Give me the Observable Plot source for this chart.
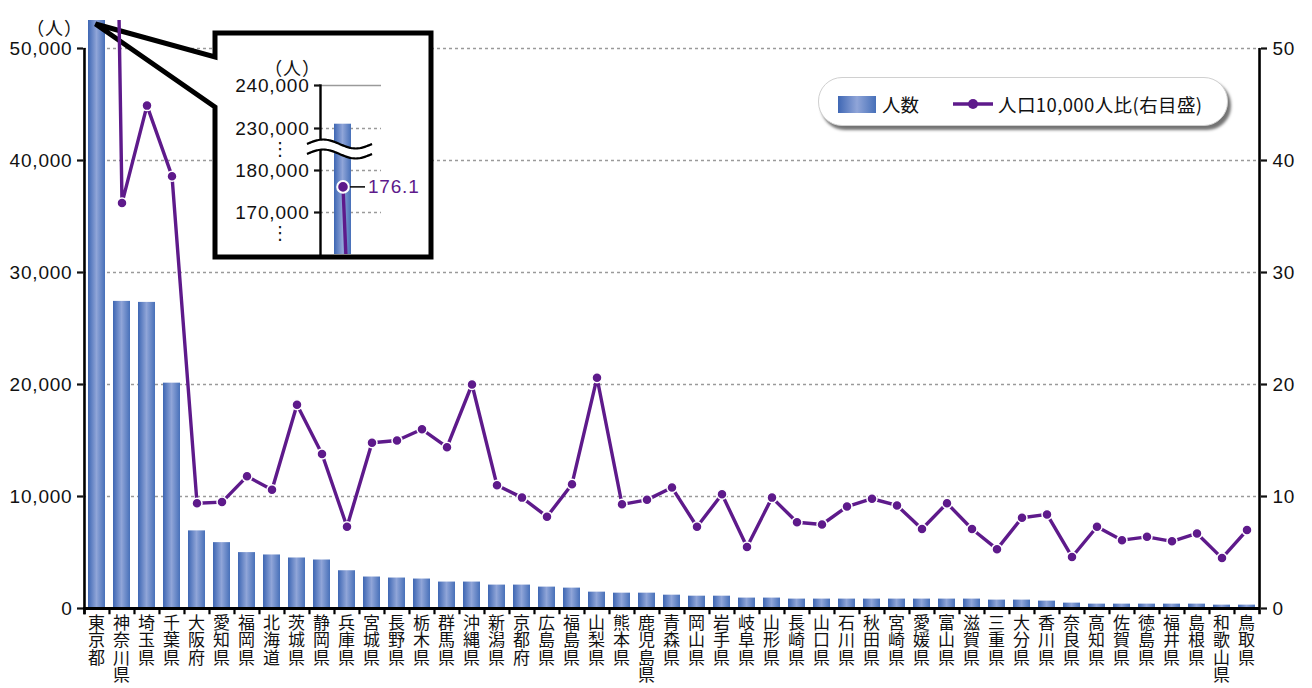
<!DOCTYPE html>
<html lang="ja">
<head>
<meta charset="utf-8">
<script src="https://cdn.jsdelivr.net/npm/d3@7"></script>
<script src="https://cdn.jsdelivr.net/npm/@observablehq/plot@0.6"></script>
<style>
  body { margin: 0; background: #fff; }
  #wrap { position: relative; width: 1312px; height: 688px; overflow: hidden; }
  #wrap > svg { position: absolute; left: 0; top: 0; }
  #inset { position: absolute; left: 215px; top: 33px; width: 217px; height: 225px; }
  #inset > svg { position: absolute; left: 0; top: 0; }
  #legend { position: absolute; left: 818px; top: 77px; width: 408px; height: 47px; border-radius: 24px;
    background: #fff; border: 1px solid #d0d0d0; box-shadow: 3px 4px 3px rgba(0,0,0,0.55);
    font-family: "Noto Sans CJK JP", sans-serif; font-size: 18.5px; color: #111; }
  #legend .sw { position: absolute; left: 19px; top: 18px; width: 38px; height: 17px;
    background: linear-gradient(to right, #3f67b4, #90a5d8 50%, #4770b9); }
  #legend .t { position: absolute; top: 12px; line-height: 28px; white-space: nowrap; }
  #legend .ls { position: absolute; left: 134px; top: 20px; }
</style>
</head>
<body>
<div id="wrap">
  <div id="legend">
    <div class="sw"></div><span class="t" style="left:63px">人数</span>
    <svg class="ls" width="40" height="12"><line x1="0" y1="6" x2="40" y2="6" stroke="#5e1a8b" stroke-width="3.3"/><circle cx="20" cy="6" r="5" fill="#5e1a8b"/></svg>
    <span class="t" style="left:179px; letter-spacing:0.4px">人口10,000人比(右目盛)</span>
  </div>
</div>
<script>
// ---- data ----
const prefectures = ["東京都","神奈川県","埼玉県","千葉県","大阪府","愛知県","福岡県","北海道","茨城県","静岡県",
  "兵庫県","宮城県","長野県","栃木県","群馬県","沖縄県","新潟県","京都府","広島県","福島県",
  "山梨県","熊本県","鹿児島県","青森県","岡山県","岩手県","岐阜県","山形県","長崎県","山口県",
  "石川県","秋田県","宮崎県","愛媛県","富山県","滋賀県","三重県","大分県","香川県","奈良県",
  "高知県","佐賀県","徳島県","福井県","島根県","和歌山県","鳥取県"];
const counts = [231000, 27420, 27330, 20120, 6930, 5880, 4990, 4780, 4510, 4330,
  3370, 2810, 2720, 2630, 2360, 2360, 2090, 2090, 1910, 1820,
  1460, 1370, 1370, 1190, 1100, 1100, 930, 930, 840, 840,
  840, 840, 840, 840, 840, 840, 750, 750, 660, 480,
  390, 390, 390, 390, 390, 300, 300];
const ratios = [176.1, 36.2, 44.9, 38.6, 9.4, 9.5, 11.8, 10.6, 18.2, 13.8,
  7.3, 14.8, 15.0, 16.0, 14.4, 20.0, 11.0, 9.9, 8.2, 11.1,
  20.6, 9.3, 9.7, 10.8, 7.3, 10.2, 5.5, 9.9, 7.7, 7.5,
  9.1, 9.8, 9.2, 7.1, 9.4, 7.1, 5.3, 8.1, 8.4, 4.6,
  7.3, 6.1, 6.4, 6.0, 6.7, 4.5, 7.0];
const leftTicks = [0, 10000, 20000, 30000, 40000, 50000];
const rightTicks = [0, 10, 20, 30, 40, 50];
const rightFactor = 1000; // right axis 50 == left axis 50,000
const insetTicks = [170000, 180000, 230000, 240000];
const insetBreak = 205000;
const insetDotsAt = [205000, 165000];

const data = prefectures.map((p, i) => ({pref: p, count: counts[i], ratio: ratios[i], ratioY: ratios[i] * rightFactor}));

const purple = "#5e1a8b";
const numFont = "'Liberation Sans', Arial, sans-serif";
const cjkFont = "'Noto Sans CJK JP', sans-serif";

function gradDefs(id) {
  return () => {
    const defs = d3.create("svg:defs");
    const g = defs.append("linearGradient").attr("id", id).attr("x1", "0").attr("x2", "1").attr("y1", "0").attr("y2", "0");
    g.append("stop").attr("offset", "0%").attr("stop-color", "#3d66b3");
    g.append("stop").attr("offset", "50%").attr("stop-color", "#90a5d8");
    g.append("stop").attr("offset", "100%").attr("stop-color", "#4770b9");
    return defs.node();
  };
}

const W = 1312, H = 688, mL = 83, mR = 52, mT = 20, mB = 80;
const step = (W - mL - mR) / prefectures.length;

// callout (speech-bubble frame) drawn from the Tokyo bar
const callout = (index, scales, values, dims) => {
  const sx = scales.x;
  const bw = typeof sx.bandwidth === "function" ? sx.bandwidth() : sx.bandwidth;
  const tipX = sx(prefectures[0]) + bw / 2 - 1;
  const tipY = dims.marginTop + 4;
  const L = 215, T = 33, R = 431, B = 257;
  const d = `M${L},${T}H${R}V${B}H${L}V107L${tipX},${tipY}L${L},57Z`;
  const g = d3.create("svg:g");
  g.append("path").attr("d", d).attr("fill", "#fff").attr("stroke", "#000")
    .attr("stroke-width", 5).attr("stroke-linejoin", "miter");
  return g.node();
};

const chart = Plot.plot({
  width: W, height: H,
  marginLeft: mL, marginRight: mR, marginTop: mT, marginBottom: mB,
  style: {background: "transparent", fontFamily: numFont, fontSize: "19px", color: "#111", letterSpacing: "0.8px"},
  x: {domain: prefectures, paddingInner: 0.32, paddingOuter: 0.16, axis: null, label: null},
  y: {domain: [0, 52500], axis: null, label: null},
  marks: [
    gradDefs("barGrad"),
    Plot.gridY(leftTicks.filter(d => d > 0), {stroke: "#9a9a9a", strokeOpacity: 1, strokeWidth: 1.3, strokeDasharray: "3,3"}),
    Plot.barY(data, {x: "pref", y: "count", fill: "url(#barGrad)", clip: true}),
    callout,
    Plot.line(data, {x: "pref", y: "ratioY", stroke: purple, strokeWidth: 3.4, clip: true}),
    Plot.dot(data, {x: "pref", y: "ratioY", r: 5, fill: purple, stroke: "#fff", strokeWidth: 1.5, clip: true}),
    Plot.ruleY([0], {stroke: "#000", strokeWidth: 3}),
    Plot.ruleX(prefectures, {y1: -560, y2: 0, dx: -step / 2, stroke: "#000", strokeWidth: 2.2}),
    Plot.ruleX([prefectures[0]], {y1: -560, y2: 50000, dx: -step / 2, stroke: "#000", strokeWidth: 2.6}),
    Plot.ruleX([prefectures[prefectures.length - 1]], {y1: -560, y2: 50000, dx: step / 2, stroke: "#000", strokeWidth: 2.6}),
    Plot.axisY({ticks: leftTicks, tickFormat: d3.format(","), tickSize: 6, tickPadding: 5, strokeWidth: 2.2, fontSize: 19, label: null}),
    Plot.axisY({anchor: "right", ticks: rightTicks.map(d => d * rightFactor), tickFormat: d => d / rightFactor, tickSize: 6, tickPadding: 6, strokeWidth: 2.2, fontSize: 19, label: null}),
    Plot.axisX({tickSize: 0, tickPadding: 8, tickFormat: d => [...d].join("\n"), fontFamily: cjkFont, fontSize: 17, lineHeight: 1.03, label: null}),
    Plot.text(["（人）"], {text: d => d, frameAnchor: "top-left", textAnchor: "middle", dx: -29, dy: 2, fontFamily: cjkFont, fontSize: 18, letterSpacing: 0})
  ]
});
document.getElementById("wrap").appendChild(chart);

// ---- inset (Tokyo detail with broken axis) ----
const iW = 217, iH = 225;
const breakMark = (index, scales) => {
  const c = scales.y(insetBreak);
  const x0 = 92, x1 = 157, A = 4.5, n = 40;
  const wave = (cy) => d3.range(n + 1).map(k => {
    const t = k / n;
    return [x0 + t * (x1 - x0), cy - A * Math.sin(2 * Math.PI * t)];
  });
  const up = wave(c - 5), lo = wave(c + 5);
  const g = d3.create("svg:g");
  const lineGen = d3.line().curve(d3.curveBasis);
  g.append("path").attr("d", "M" + up.map(p => p.join(",")).join("L") + "L" + lo.slice().reverse().map(p => p.join(",")).join("L") + "Z")
    .attr("fill", "#fff");
  g.append("path").attr("d", lineGen(up)).attr("fill", "none").attr("stroke", "#000").attr("stroke-width", 2.2);
  g.append("path").attr("d", lineGen(lo)).attr("fill", "none").attr("stroke", "#000").attr("stroke-width", 2.2);
  return g.node();
};

const inset = Plot.plot({
  width: iW, height: iH,
  marginLeft: 105, marginRight: 51, marginTop: 52, marginBottom: 4,
  style: {background: "transparent", fontFamily: numFont, fontSize: "19px", color: "#111", letterSpacing: "0.8px"},
  x: {type: "band", domain: prefectures, range: [113.5, 113.5 + step * prefectures.length], paddingInner: 0.32, paddingOuter: 0.16, axis: null, label: null},
  y: {type: "linear", domain: [160000, 170000, 180000, 230000, 240000], range: [221, 179, 137, 95, 52], axis: null, label: null},
  marks: [
    gradDefs("barGradInset"),
    Plot.gridY(insetTicks.slice(0, 3), {stroke: "#9a9a9a", strokeOpacity: 1, strokeWidth: 1.3, strokeDasharray: "3,3"}),
    Plot.ruleY([insetTicks[3]], {stroke: "#9a9a9a", strokeWidth: 1.3}),
    Plot.barY(data, {x: "pref", y: "count", fill: "url(#barGradInset)", clip: true}),
    Plot.line(data, {x: "pref", y: "ratioY", stroke: purple, strokeWidth: 3.4, clip: true}),
    Plot.frame({anchor: "left", stroke: "#000", strokeWidth: 2.4}),
    breakMark,
    Plot.tickY(data.slice(0, 1), {x: "pref", y: "ratioY", dx: 14, stroke: "#111", strokeWidth: 1.6}),
    Plot.dot(data.slice(0, 1), {x: "pref", y: "ratioY", r: 5.8, fill: purple, stroke: "#fff", strokeWidth: 2}),
    Plot.text(data.slice(0, 1), {x: "pref", y: "ratioY", text: d => d.ratio.toFixed(1), dx: 25, textAnchor: "start", fill: purple, fontSize: 19}),
    Plot.axisY({ticks: insetTicks, tickFormat: d3.format(","), tickSize: 6, tickPadding: 5, strokeWidth: 2.2, fontSize: 19, label: null}),
    Plot.text(insetDotsAt, {y: d => d, text: () => "⋮", frameAnchor: "left", textAnchor: "middle", dx: -40, fontFamily: "'DejaVu Sans', sans-serif", fontSize: 18}),
    Plot.text(["（人）"], {text: d => d, frameAnchor: "top-left", textAnchor: "middle", dx: -28, dy: -23, fontFamily: cjkFont, fontSize: 18, letterSpacing: 0})
  ]
});
const insetDiv = document.createElement("div");
insetDiv.id = "inset";
insetDiv.appendChild(inset);
document.getElementById("wrap").appendChild(insetDiv);
// keep legend on top
document.getElementById("wrap").appendChild(document.getElementById("legend"));
</script>
</body>
</html>
